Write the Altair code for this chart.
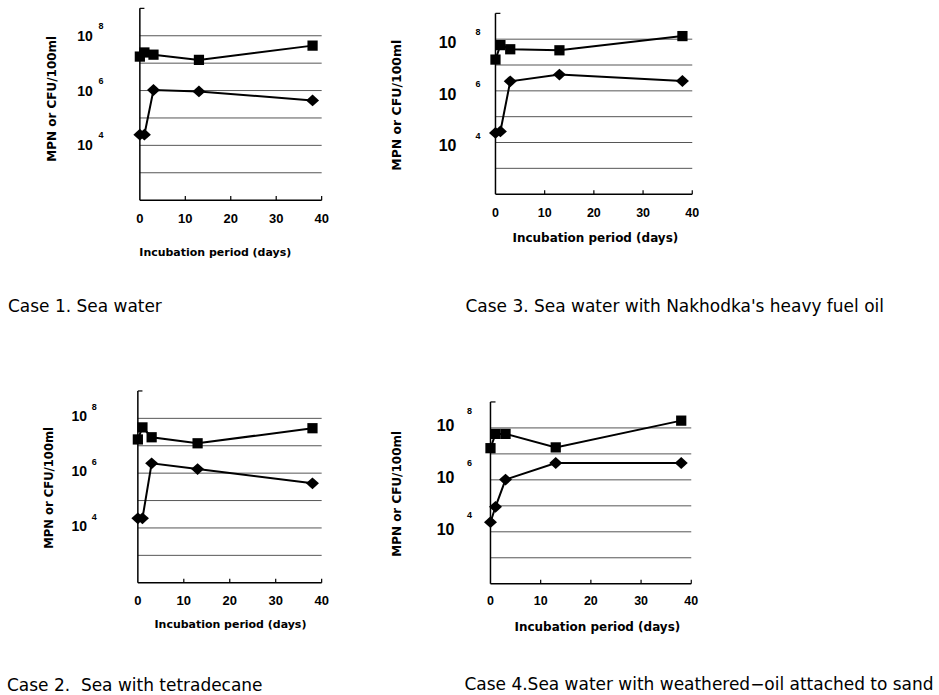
import altair as alt
import pandas as pd

# ---------------- data ----------------
days = [0, 1, 3, 13, 38]

# log10 of MPN or CFU/100ml
case1_square = [7.24, 7.39, 7.31, 7.12, 7.64]
case1_diamond = [4.39, 4.39, 6.02, 5.97, 5.64]
case2_square = [7.23, 7.67, 7.31, 7.09, 7.64]
case2_diamond = [4.35, 4.35, 6.36, 6.15, 5.63]
case3_square = [7.21, 7.77, 7.61, 7.57, 8.12]
case3_diamond = [4.37, 4.43, 6.37, 6.63, 6.38]
case4_square = [7.22, 7.77, 7.77, 7.25, 8.28]
case4_diamond = [4.37, 4.96, 6.01, 6.65, 6.65]

captions = [
    "Case 1. Sea water",
    "Case 2.\u00a0 Sea with tetradecane",
    "Case 3. Sea water with Nakhodka's heavy fuel oil",
    "Case 4.Sea water with weathered\u2212oil attached to sand",
]
x_tick_values = [0, 10, 20, 30, 40]
x_inner_ticks = [10, 20, 30, 40]
grid_exponents = [3, 4, 5, 6, 7, 8]
label_exponents = [8, 6, 4]
x_title = "Incubation period (days)"
y_title = "MPN or CFU/100ml"
x_domain = [0, 40]
y_domain = [1e2, 1e9]

# ---------------- styling per panel (pixels) ----------------
styles = {
    "p1": dict(w=182, h=192, xr=[0, 182], yr=[192, 0], xlab_y=211, xlab_size=13,
               xt_x=75.5, xt_y=245, xt_size=11, yt_x=-88, yt_y=90.5, yt_size=12,
               ten_x=-55, ten_dy=1, ten_size=14, sup_x=-39, sup_dy=-10, sup_size=9,
               cap_x=-132, cap_y=304),
    "p3": dict(w=197, h=186, xr=[0, 197], yr=[186, 5], xlab_y=205.3, xlab_size=12.5,
               xt_x=100, xt_y=229.7, xt_size=12, yt_x=-98.3, yt_y=97, yt_size=12.5,
               ten_x=-48, ten_dy=4, ten_size=16, sup_x=-17.5, sup_dy=-7, sup_size=9,
               cap_x=-30, cap_y=304),
    "p2": dict(w=182, h=192, xr=[-2, 182], yr=[192, 0], xlab_y=210.7, xlab_size=13,
               xt_x=90.7, xt_y=234.7, xt_size=11, yt_x=-89.7, yt_y=97, yt_size=11.6,
               ten_x=-60.7, ten_dy=-1, ten_size=14, sup_x=-45.7, sup_dy=-11, sup_size=9,
               cap_x=-133, cap_y=300),
    "p4": dict(w=197, h=193, xr=[-5, 196], yr=[193, 11], xlab_y=210.7, xlab_size=12.5,
               xt_x=102, xt_y=236.7, xt_size=12, yt_x=-98.3, yt_y=103, yt_size=12,
               ten_x=-50, ten_dy=-2, ten_size=16, sup_x=-26, sup_dy=-17, sup_size=9,
               cap_x=-31, cap_y=299),
}

SANS = "DejaVu Sans"
ARIAL = "Liberation Sans"


def panel(sq, di, caption, st):
    xs = alt.Scale(domain=x_domain, range=st["xr"], nice=False, zero=False)
    ys = alt.Scale(type="log", domain=y_domain, range=st["yr"], nice=False)

    def X(f):
        return alt.X(f, type="quantitative", scale=xs, axis=None)

    def Y(f):
        return alt.Y(f, type="quantitative", scale=ys, axis=None)

    grid_df = pd.DataFrame({"y": [10.0 ** e for e in grid_exponents],
                            "x0": x_domain[0], "x1": x_domain[1]})
    grid = alt.Chart(grid_df).mark_rule(color="#555555", strokeWidth=1).encode(
        x=X("x0"), x2="x1", y=Y("y"))

    frame_df = pd.DataFrame({"x0": [x_domain[0]], "x1": [x_domain[1]],
                             "y0": [y_domain[0]], "y1": [y_domain[1]], "xt": [1.0]})
    yaxis = alt.Chart(frame_df).mark_rule(color="black", strokeWidth=1.5).encode(
        x=X("x0"), y=Y("y0"), y2="y1")
    xaxis = alt.Chart(frame_df).mark_rule(color="black", strokeWidth=1.5).encode(
        x=X("x0"), x2="x1", y=Y("y0"))
    toptick = alt.Chart(frame_df).mark_rule(color="black", strokeWidth=1.2).encode(
        x=X("x0"), x2="xt", y=Y("y1"))

    tick_df = pd.DataFrame({"x": x_inner_ticks, "y0": y_domain[0], "y1": 10 ** 2.15})
    xticks = alt.Chart(tick_df).mark_rule(color="black", strokeWidth=1.2).encode(
        x=X("x"), y=Y("y0"), y2="y1")

    xlab_df = pd.DataFrame({"x": x_tick_values, "t": [str(v) for v in x_tick_values]})
    xlabels = alt.Chart(xlab_df).mark_text(
        font=ARIAL, fontWeight="bold", fontSize=st["xlab_size"], baseline="middle",
        align="center", color="black").encode(
        x=X("x"), y=alt.value(st["xlab_y"]), text="t:N")

    ylab_df = pd.DataFrame({"v": [10.0 ** e for e in label_exponents],
                            "sup": [str(e) for e in label_exponents]})
    tens = alt.Chart(ylab_df).mark_text(
        font=ARIAL, fontWeight="bold", fontSize=st["ten_size"], baseline="middle",
        align="center", dy=st["ten_dy"], color="black").encode(
        x=alt.value(st["ten_x"]), y=Y("v"), text=alt.value("10"))
    sups = alt.Chart(ylab_df).mark_text(
        font=ARIAL, fontWeight="bold", fontSize=st["sup_size"], baseline="middle",
        align="center", dy=st["sup_dy"], color="black").encode(
        x=alt.value(st["sup_x"]), y=Y("v"), text="sup:N")

    one = pd.DataFrame({"xt": [x_title], "yt": [y_title], "cap": [caption]})
    xtitle = alt.Chart(one).mark_text(
        font=SANS, fontWeight="bold", fontSize=st["xt_size"], baseline="middle",
        align="center", color="black").encode(
        x=alt.value(st["xt_x"]), y=alt.value(st["xt_y"]), text="xt:N")
    ytitle = alt.Chart(one).mark_text(
        font=SANS, fontWeight="bold", fontSize=st["yt_size"], baseline="middle",
        align="center", angle=270, color="black").encode(
        x=alt.value(st["yt_x"]), y=alt.value(st["yt_y"]), text="yt:N")
    cap = alt.Chart(one).mark_text(
        font=SANS, fontSize=17, baseline="alphabetic", align="left",
        color="black").encode(
        x=alt.value(st["cap_x"]), y=alt.value(st["cap_y"]), text="cap:N")

    series_df = pd.DataFrame({
        "day": days + days,
        "v": [10.0 ** a for a in sq] + [10.0 ** a for a in di],
        "series": ["square"] * len(days) + ["diamond"] * len(days),
    })
    lines = alt.Chart(series_df).mark_line(color="black", strokeWidth=2).encode(
        x=X("day"), y=Y("v"), detail="series:N")
    squares = alt.Chart(series_df).transform_filter(
        alt.datum.series == "square").mark_point(
        shape="square", filled=True, size=105, color="black", opacity=1).encode(
        x=X("day"), y=Y("v"))
    diamonds = alt.Chart(series_df).transform_filter(
        alt.datum.series == "diamond").mark_point(
        shape="M-1.1,0L0,-1L1.1,0L0,1Z", filled=True, size=140, color="black",
        opacity=1).encode(
        x=X("day"), y=Y("v"))

    return alt.layer(grid, yaxis, xaxis, toptick, xticks, xlabels, tens, sups,
                     xtitle, ytitle, cap, lines, squares, diamonds).properties(
        width=st["w"], height=st["h"])


p1 = panel(case1_square, case1_diamond, captions[0], styles["p1"])
p2 = panel(case2_square, case2_diamond, captions[1], styles["p2"])
p3 = panel(case3_square, case3_diamond, captions[2], styles["p3"])
p4 = panel(case4_square, case4_diamond, captions[3], styles["p4"])

chart = alt.concat(
    p1, p3, p2, p4, columns=2, spacing={"row": 191, "column": 174}, bounds="flush"
).resolve_scale(x="independent", y="independent").configure_view(
    strokeWidth=0
).properties(
    padding={"left": 7, "top": 7, "right": 5, "bottom": 0},
    background="white",
)

chart.save("out.html", embed_options={"renderer": "svg", "actions": False})
